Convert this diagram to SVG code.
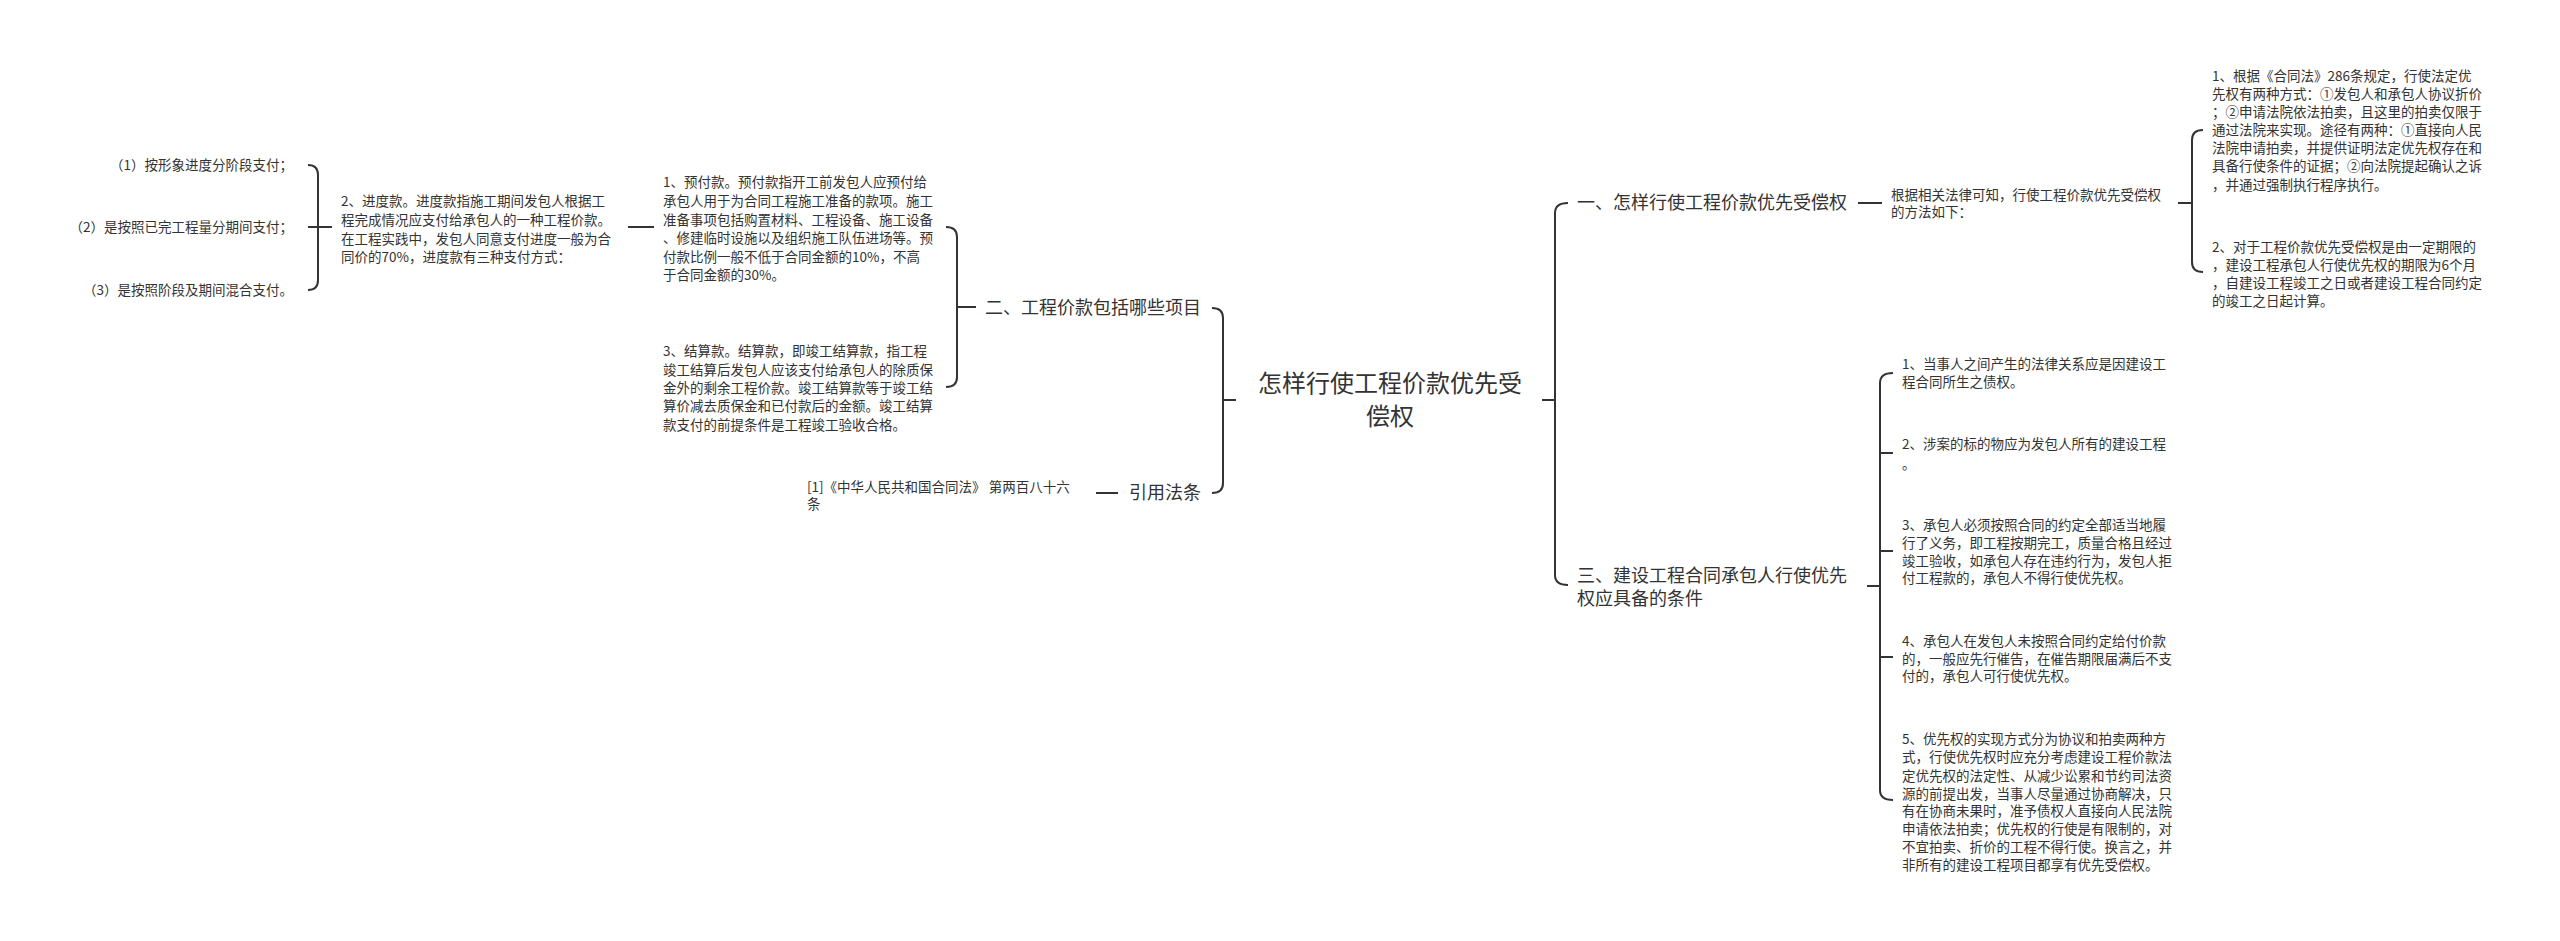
<svg xmlns="http://www.w3.org/2000/svg" width="2560" height="941" viewBox="0 0 2560 941">
<style>
text{font-family:"Noto Sans CJK SC","Noto Sans",sans-serif;fill:#333}
.s{font-size:13.5px}
.m{font-size:18px}
.r{font-size:24px}
.c path{fill:none;stroke:#333;stroke-width:2}
</style>
<rect width="2560" height="941" fill="#fff"/>
<g class="c" id="connectors">
<path d="M308,165 Q318,165 318,175 V280 Q318,290 308,290 M308,227 H332"/>
<path d="M628,227 H654"/>
<path d="M946,227 Q957,227 957,237 V377 Q957,387 946,387 M957,307 H976"/>
<path d="M1212,308 Q1223,308 1223,318 V483 Q1223,493 1212,493 M1223,400 H1236"/>
<path d="M1096,493 H1118"/>
<path d="M1542,400 H1555 M1568,203 Q1555,203 1555,213 V575 Q1555,585 1568,585"/>
<path d="M1858,203 H1882"/>
<path d="M2178,203 H2192 M2203,130 Q2192,130 2192,140 V262 Q2192,272 2203,272"/>
<path d="M1867,586 H1880 M1893,373 Q1880,373 1880,383 V790 Q1880,800 1893,800 M1880,453 Q1880,453 1893,453 M1880,551 H1893 M1880,657 H1893"/>
</g>
<g id="root"><text class="r" x="1390" y="392" text-anchor="middle">怎样行使工程价款优先受</text><text class="r" x="1390" y="425" text-anchor="middle">偿权</text></g>
<g id="n-er"><text class="m" x="1201" y="314" text-anchor="end">二、工程价款包括哪些项目</text></g>
<g id="n-yinyong"><text class="m" x="1201" y="499" text-anchor="end">引用法条</text></g>
<g id="n-law"><text class="s" x="807" y="492">[1]《中华人民共和国合同法》 第两百八十六</text><text class="s" x="807" y="509">条</text></g>
<g id="n-yufu" class="s"><text x="663" y="187">1、预付款。预付款指开工前发包人应预付给</text><text x="663" y="206">承包人用于为合同工程施工准备的款项。施工</text><text x="663" y="225">准备事项包括购置材料、工程设备、施工设备</text><text x="663" y="243">、修建临时设施以及组织施工队伍进场等。预</text><text x="663" y="262">付款比例一般不低于合同金额的10%，不高</text><text x="663" y="280">于合同金额的30%。</text></g>
<g id="n-jiesuan" class="s"><text x="663" y="356">3、结算款。结算款，即竣工结算款，指工程</text><text x="663" y="375">竣工结算后发包人应该支付给承包人的除质保</text><text x="663" y="393">金外的剩余工程价款。竣工结算款等于竣工结</text><text x="663" y="411">算价减去质保金和已付款后的金额。竣工结算</text><text x="663" y="430">款支付的前提条件是工程竣工验收合格。</text></g>
<g id="n-jindu" class="s"><text x="341" y="206">2、进度款。进度款指施工期间发包人根据工</text><text x="341" y="225">程完成情况应支付给承包人的一种工程价款。</text><text x="341" y="244">在工程实践中，发包人同意支付进度一般为合</text><text x="341" y="262">同价的70%，进度款有三种支付方式：</text></g>
<g id="n-p1"><text class="s" x="293" y="170" text-anchor="end">（1）按形象进度分阶段支付；</text></g>
<g id="n-p2"><text class="s" x="293" y="232" text-anchor="end">（2）是按照已完工程量分期间支付；</text></g>
<g id="n-p3"><text class="s" x="293" y="295" text-anchor="end">（3）是按照阶段及期间混合支付。</text></g>
<g id="n-yi"><text class="m" x="1577" y="209">一、怎样行使工程价款优先受偿权</text></g>
<g id="n-genju" class="s"><text x="1891" y="200">根据相关法律可知，行使工程价款优先受偿权</text><text x="1891" y="217">的方法如下：</text></g>
<g id="n-f1" class="s"><text x="2212" y="81">1、根据《合同法》286条规定，行使法定优</text><text x="2212" y="99">先权有两种方式：①发包人和承包人协议折价</text><text x="2212" y="117">；②申请法院依法拍卖，且这里的拍卖仅限于</text><text x="2212" y="135">通过法院来实现。途径有两种：①直接向人民</text><text x="2212" y="153">法院申请拍卖，并提供证明法定优先权存在和</text><text x="2212" y="171">具备行使条件的证据；②向法院提起确认之诉</text><text x="2212" y="190">，并通过强制执行程序执行。</text></g>
<g id="n-f2" class="s"><text x="2212" y="252">2、对于工程价款优先受偿权是由一定期限的</text><text x="2212" y="270">，建设工程承包人行使优先权的期限为6个月</text><text x="2212" y="288">，自建设工程竣工之日或者建设工程合同约定</text><text x="2212" y="306">的竣工之日起计算。</text></g>
<g id="n-san"><text class="m" x="1577" y="582">三、建设工程合同承包人行使优先</text><text class="m" x="1577" y="605">权应具备的条件</text></g>
<g id="n-c1" class="s"><text x="1902" y="369">1、当事人之间产生的法律关系应是因建设工</text><text x="1902" y="387">程合同所生之债权。</text></g>
<g id="n-c2" class="s"><text x="1902" y="449">2、涉案的标的物应为发包人所有的建设工程</text><text x="1902" y="469">。</text></g>
<g id="n-c3" class="s"><text x="1902" y="530">3、承包人必须按照合同的约定全部适当地履</text><text x="1902" y="548">行了义务，即工程按期完工，质量合格且经过</text><text x="1902" y="566">竣工验收，如承包人存在违约行为，发包人拒</text><text x="1902" y="583">付工程款的，承包人不得行使优先权。</text></g>
<g id="n-c4" class="s"><text x="1902" y="646">4、承包人在发包人未按照合同约定给付价款</text><text x="1902" y="664">的，一般应先行催告，在催告期限届满后不支</text><text x="1902" y="681">付的，承包人可行使优先权。</text></g>
<g id="n-c5" class="s"><text x="1902" y="744">5、优先权的实现方式分为协议和拍卖两种方</text><text x="1902" y="762">式，行使优先权时应充分考虑建设工程价款法</text><text x="1902" y="781">定优先权的法定性、从减少讼累和节约司法资</text><text x="1902" y="799">源的前提出发，当事人尽量通过协商解决，只</text><text x="1902" y="816">有在协商未果时，准予债权人直接向人民法院</text><text x="1902" y="834">申请依法拍卖；优先权的行使是有限制的，对</text><text x="1902" y="852">不宜拍卖、折价的工程不得行使。换言之，并</text><text x="1902" y="870">非所有的建设工程项目都享有优先受偿权。</text></g>
</svg>
